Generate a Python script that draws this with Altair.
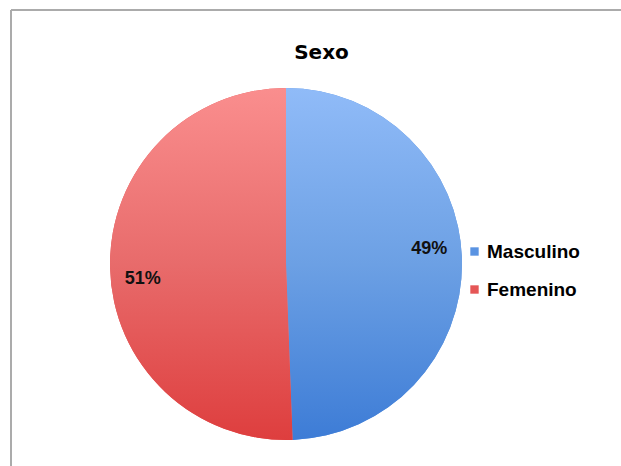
import altair as alt
import pandas as pd

sexo = ["Masculino", "Femenino"]
porcentaje = [49.4, 50.6]
orden = [1, 2]

df = pd.DataFrame({"sexo": sexo, "pct": porcentaje, "orden": orden})
df["label"] = [f"{round(v)}%" for v in porcentaje]

W, H = 611, 457
CX, CY = 276, 255
R = 176

grad_blue = alt.LinearGradient(
    gradient="linear", x1=0, y1=0, x2=0, y2=1,
    stops=[alt.GradientStop(offset=0, color="#90BBF8"),
           alt.GradientStop(offset=0.5, color="#6CA0E4"),
           alt.GradientStop(offset=1, color="#3D7CD6")],
)
grad_red = alt.LinearGradient(
    gradient="linear", x1=0, y1=0, x2=0, y2=1,
    stops=[alt.GradientStop(offset=0, color="#FA8E8E"),
           alt.GradientStop(offset=0.5, color="#E86B6B"),
           alt.GradientStop(offset=1, color="#DE3E3E")],
)

base = alt.Chart(df)

theta = alt.Theta("pct:Q", stack=True)
order = alt.Order("orden:Q", sort="ascending")

legend_layer = base.mark_arc(outerRadius=R).encode(
    theta=theta,
    order=order,
    x=alt.value(CX),
    y=alt.value(CY),
    color=alt.Color(
        "sexo:N",
        scale=alt.Scale(domain=sexo, range=["#5A93E2", "#E55656"]),
        legend=alt.Legend(
            title=None,
            orient="none",
            legendX=455,
            legendY=233,
            symbolType="square",
            symbolSize=70,
            symbolStrokeWidth=0,
            labelFont="Liberation Sans",
            labelFontSize=19,
            labelFontWeight="bold",
            labelColor="#000000",
            rowPadding=18,
            labelOffset=3,
        ),
    ),
)

grad_layer = base.mark_arc(outerRadius=R).encode(
    theta=theta,
    order=order,
    x=alt.value(CX),
    y=alt.value(CY),
    fill=alt.condition("datum.sexo == 'Masculino'", alt.value(grad_blue), alt.value(grad_red)),
)

text_layer = base.mark_text(
    radius=144, thetaOffset=-0.085, font="Liberation Sans", fontSize=18,
    fontWeight="bold", color="#111111"
).encode(
    theta=theta,
    order=order,
    x=alt.value(CX),
    y=alt.value(CY),
    text="label:N",
)

border_df = pd.DataFrame({"k": [0]})
top_rule = alt.Chart(border_df).mark_rule(color="#ABABAB", strokeWidth=2).encode(
    x=alt.value(1), x2=alt.value(W + 5), y=alt.value(1)
)
left_rule = alt.Chart(border_df).mark_rule(color="#ABABAB", strokeWidth=2).encode(
    x=alt.value(1), y=alt.value(1), y2=alt.value(H + 5)
)

chart = alt.layer(legend_layer, grad_layer, text_layer, top_rule, left_rule).properties(
    width=W,
    height=H,
    autosize=alt.AutoSizeParams(type="none"),
    padding={"left": 10, "top": 9, "right": 0, "bottom": 0},
    background="#FFFFFF",
    title=alt.Title(
        "Sexo", font="DejaVu Sans", fontSize=20, fontWeight="bold", color="#000000",
        anchor="middle", offset=-54, dx=6,
    ),
).configure_view(strokeWidth=0)

chart.save("out.html", embed_options={"renderer": "svg", "actions": False})
